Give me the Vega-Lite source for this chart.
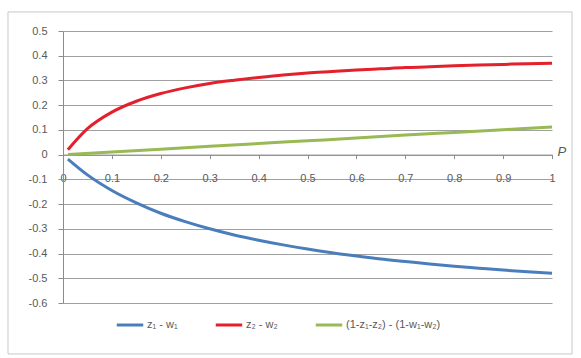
{
  "$schema": "https://vega.github.io/schema/vega-lite/v6.json",
  "width": 489,
  "height": 272,
  "autosize": {"type": "none"},
  "padding": {"left": 63, "top": 31, "right": 29, "bottom": 55},
  "background": "white",
  "config": {
    "view": {"stroke": null},
    "font": "Liberation Sans",
    "axis": {"labelFont": "Liberation Sans", "labelFontSize": 11, "labelColor": "#595959", "domainColor": "#8c8c8c", "tickColor": "#8c8c8c"},
    "legend": {"labelFont": "Liberation Sans", "labelFontSize": 11, "labelColor": "#595959"}
  },
  "datasets": {
    "frame": [{"x1": -0.1125, "x2": 1.041, "y1": 0.577, "y2": -0.806}],
    "series": [
      {"p": 0.01, "v": -0.018, "s": "z₁ - w₁"},
      {"p": 0.05, "v": -0.082, "s": "z₁ - w₁"},
      {"p": 0.1, "v": -0.145, "s": "z₁ - w₁"},
      {"p": 0.15, "v": -0.195, "s": "z₁ - w₁"},
      {"p": 0.2, "v": -0.237, "s": "z₁ - w₁"},
      {"p": 0.25, "v": -0.271, "s": "z₁ - w₁"},
      {"p": 0.3, "v": -0.3, "s": "z₁ - w₁"},
      {"p": 0.35, "v": -0.325, "s": "z₁ - w₁"},
      {"p": 0.4, "v": -0.346, "s": "z₁ - w₁"},
      {"p": 0.45, "v": -0.365, "s": "z₁ - w₁"},
      {"p": 0.5, "v": -0.382, "s": "z₁ - w₁"},
      {"p": 0.55, "v": -0.397, "s": "z₁ - w₁"},
      {"p": 0.6, "v": -0.41, "s": "z₁ - w₁"},
      {"p": 0.65, "v": -0.422, "s": "z₁ - w₁"},
      {"p": 0.7, "v": -0.432, "s": "z₁ - w₁"},
      {"p": 0.75, "v": -0.442, "s": "z₁ - w₁"},
      {"p": 0.8, "v": -0.451, "s": "z₁ - w₁"},
      {"p": 0.85, "v": -0.459, "s": "z₁ - w₁"},
      {"p": 0.9, "v": -0.467, "s": "z₁ - w₁"},
      {"p": 0.95, "v": -0.474, "s": "z₁ - w₁"},
      {"p": 1.0, "v": -0.48, "s": "z₁ - w₁"},
      {"p": 0.01, "v": 0.02, "s": "z₂ - w₂"},
      {"p": 0.05, "v": 0.105, "s": "z₂ - w₂"},
      {"p": 0.1, "v": 0.172, "s": "z₂ - w₂"},
      {"p": 0.15, "v": 0.216, "s": "z₂ - w₂"},
      {"p": 0.2, "v": 0.247, "s": "z₂ - w₂"},
      {"p": 0.25, "v": 0.27, "s": "z₂ - w₂"},
      {"p": 0.3, "v": 0.288, "s": "z₂ - w₂"},
      {"p": 0.35, "v": 0.301, "s": "z₂ - w₂"},
      {"p": 0.4, "v": 0.312, "s": "z₂ - w₂"},
      {"p": 0.45, "v": 0.322, "s": "z₂ - w₂"},
      {"p": 0.5, "v": 0.33, "s": "z₂ - w₂"},
      {"p": 0.55, "v": 0.336, "s": "z₂ - w₂"},
      {"p": 0.6, "v": 0.342, "s": "z₂ - w₂"},
      {"p": 0.65, "v": 0.347, "s": "z₂ - w₂"},
      {"p": 0.7, "v": 0.352, "s": "z₂ - w₂"},
      {"p": 0.75, "v": 0.355, "s": "z₂ - w₂"},
      {"p": 0.8, "v": 0.359, "s": "z₂ - w₂"},
      {"p": 0.85, "v": 0.362, "s": "z₂ - w₂"},
      {"p": 0.9, "v": 0.365, "s": "z₂ - w₂"},
      {"p": 0.95, "v": 0.368, "s": "z₂ - w₂"},
      {"p": 1.0, "v": 0.37, "s": "z₂ - w₂"},
      {"p": 0.01, "v": 0.001, "s": "(1-z₁-z₂) - (1-w₁-w₂)"},
      {"p": 0.1, "v": 0.011, "s": "(1-z₁-z₂) - (1-w₁-w₂)"},
      {"p": 0.2, "v": 0.022, "s": "(1-z₁-z₂) - (1-w₁-w₂)"},
      {"p": 0.3, "v": 0.034, "s": "(1-z₁-z₂) - (1-w₁-w₂)"},
      {"p": 0.4, "v": 0.045, "s": "(1-z₁-z₂) - (1-w₁-w₂)"},
      {"p": 0.5, "v": 0.056, "s": "(1-z₁-z₂) - (1-w₁-w₂)"},
      {"p": 0.6, "v": 0.067, "s": "(1-z₁-z₂) - (1-w₁-w₂)"},
      {"p": 0.7, "v": 0.079, "s": "(1-z₁-z₂) - (1-w₁-w₂)"},
      {"p": 0.8, "v": 0.09, "s": "(1-z₁-z₂) - (1-w₁-w₂)"},
      {"p": 0.9, "v": 0.101, "s": "(1-z₁-z₂) - (1-w₁-w₂)"},
      {"p": 1.0, "v": 0.112, "s": "(1-z₁-z₂) - (1-w₁-w₂)"}
    ]
  },
  "layer": [
    {
      "data": {"name": "series"},
      "mark": {"type": "line", "strokeWidth": 3, "interpolate": "monotone"},
      "encoding": {
        "x": {
          "field": "p", "type": "quantitative",
          "scale": {"domain": [0, 1], "nice": false, "zero": false},
          "axis": {
            "values": [0, 0.1, 0.2, 0.3, 0.4, 0.5, 0.6, 0.7, 0.8, 0.9, 1],
            "labelExpr": "format(datum.value, '~g')",
            "offset": -148.4,
            "grid": false,
            "tickSize": 4,
            "labelPadding": 14,
            "labelBaseline": "top",
            "labelFlush": false,
            "title": "P",
            "titleFontStyle": "italic",
            "titleFontWeight": "normal",
            "titleFontSize": 13,
            "titleColor": "#595959",
            "titleX": 494,
            "titleY": -3,
            "titleAlign": "left",
            "titleBaseline": "middle",
            "titleAnchor": null
          }
        },
        "y": {
          "field": "v", "type": "quantitative",
          "scale": {"domain": [-0.6, 0.5], "nice": false, "zero": false},
          "axis": {
            "values": [-0.6, -0.5, -0.4, -0.3, -0.2, -0.1, 0, 0.1, 0.2, 0.3, 0.4, 0.5],
            "labelExpr": "replace(format(datum.value, '~g'), '−', '-')",
            "grid": true,
            "gridColor": "#a0a0a0",
            "gridWidth": 1,
            "tickSize": 5,
            "labelPadding": 11,
            "labelFlush": false,
            "labelOverlap": false,
            "title": null
          }
        },
        "color": {
          "field": "s", "type": "nominal",
          "scale": {"domain": ["z₁ - w₁", "z₂ - w₂", "(1-z₁-z₂) - (1-w₁-w₂)"], "range": ["#4a7ebb", "#e3202b", "#98b954"]},
          "legend": {
            "orient": "none",
            "legendX": 52,
            "legendY": 279,
            "direction": "horizontal",
            "title": null,
            "symbolType": "stroke",
            "symbolStrokeWidth": 3,
            "symbolSize": 700,
            "columnPadding": 31,
            "labelOffset": 2
          }
        },
        "order": {"field": "p", "type": "quantitative"}
      }
    },
    {
      "data": {"name": "frame"},
      "mark": {"type": "rect", "fill": null, "stroke": "#c8c8c8", "strokeWidth": 1, "clip": false},
      "encoding": {
        "x": {
          "field": "x1", "type": "quantitative",
          "axis": {
            "values": [0, 0.1, 0.2, 0.3, 0.4, 0.5, 0.6, 0.7, 0.8, 0.9, 1],
            "labelExpr": "format(datum.value, '~g')",
            "offset": -148.4,
            "grid": false,
            "tickSize": 4,
            "labelPadding": 14,
            "labelBaseline": "top",
            "labelFlush": false,
            "title": "P",
            "titleFontStyle": "italic",
            "titleFontWeight": "normal",
            "titleFontSize": 13,
            "titleColor": "#595959",
            "titleX": 494,
            "titleY": -3,
            "titleAlign": "left",
            "titleBaseline": "middle",
            "titleAnchor": null
          }
        },
        "x2": {"field": "x2"},
        "y": {
          "field": "y1", "type": "quantitative",
          "axis": {
            "values": [-0.6, -0.5, -0.4, -0.3, -0.2, -0.1, 0, 0.1, 0.2, 0.3, 0.4, 0.5],
            "labelExpr": "replace(format(datum.value, '~g'), '−', '-')",
            "grid": true,
            "gridColor": "#a0a0a0",
            "gridWidth": 1,
            "tickSize": 5,
            "labelPadding": 11,
            "labelFlush": false,
            "labelOverlap": false,
            "title": null
          }
        },
        "y2": {"field": "y2"}
      }
    }
  ]
}
